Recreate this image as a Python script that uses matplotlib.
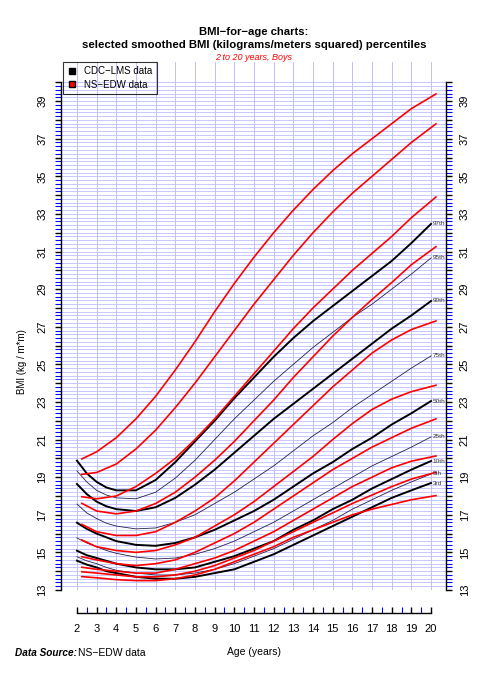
import numpy as np
import matplotlib
matplotlib.use("Agg")
import matplotlib.pyplot as plt
from matplotlib.lines import Line2D
from matplotlib.ticker import FixedLocator, FixedFormatter

plt.rcParams['font.family'] = ['Liberation Sans', 'DejaVu Sans']

# CDC-LMS percentiles (black)
cdc_age = [2, 2.5, 3, 3.5, 4, 5, 6, 7, 8, 9, 10, 11, 12, 13, 14, 15, 16, 17, 18, 19, 20]
cdc_labels = ['3rd', '5th', '10th', '25th', '50th', '75th', '90th', '95th', '97th']
cdc_p3 = [14.56, 14.35, 14.2, 14.0, 13.9, 13.7, 13.6, 13.6, 13.7, 13.9, 14.1, 14.5, 14.9, 15.4, 15.9, 16.4, 16.9, 17.4, 17.9, 18.3, 18.69]
cdc_p5 = [14.77, 14.55, 14.4, 14.2, 14.05, 13.9, 13.8, 13.8, 13.9, 14.1, 14.4, 14.8, 15.2, 15.7, 16.2, 16.7, 17.3, 17.8, 18.3, 18.75, 19.17]
cdc_p10 = [15.09, 14.85, 14.7, 14.55, 14.4, 14.2, 14.1, 14.1, 14.2, 14.5, 14.8, 15.2, 15.6, 16.2, 16.7, 17.3, 17.8, 18.4, 18.9, 19.4, 19.86]
cdc_p25 = [15.77, 15.5, 15.3, 15.1, 14.95, 14.75, 14.65, 14.7, 14.9, 15.2, 15.6, 16.1, 16.6, 17.2, 17.8, 18.4, 19.0, 19.6, 20.1, 20.6, 21.14]
cdc_p50 = [16.58, 16.25, 16.0, 15.8, 15.6, 15.4, 15.35, 15.5, 15.8, 16.2, 16.7, 17.2, 17.8, 18.5, 19.2, 19.8, 20.5, 21.1, 21.8, 22.4, 23.05]
cdc_p75 = [17.57, 17.1, 16.8, 16.55, 16.4, 16.25, 16.3, 16.6, 17.0, 17.6, 18.2, 18.9, 19.6, 20.4, 21.2, 21.9, 22.7, 23.4, 24.1, 24.8, 25.45]
cdc_p90 = [18.64, 18.1, 17.7, 17.45, 17.3, 17.2, 17.4, 17.9, 18.6, 19.4, 20.3, 21.2, 22.1, 22.9, 23.7, 24.5, 25.3, 26.1, 26.9, 27.6, 28.37]
cdc_p95 = [19.33, 18.75, 18.3, 18.05, 17.9, 17.85, 18.2, 18.95, 19.9, 21.0, 22.1, 23.1, 24.1, 25.0, 25.9, 26.7, 27.5, 28.2, 29.0, 29.8, 30.66]
cdc_p97 = [19.88, 19.2, 18.75, 18.45, 18.3, 18.3, 18.85, 19.8, 20.9, 22.0, 23.2, 24.3, 25.4, 26.4, 27.3, 28.1, 28.9, 29.7, 30.5, 31.45, 32.47]

# NS-EDW percentiles (red), listed from bottom to top
edw_age = [2.25, 3, 4, 5, 6, 7, 8, 9, 10, 11, 12, 13, 14, 15, 16, 17, 18, 19, 20.25]
edw_r10 = [13.71, 13.65, 13.55, 13.5, 13.5, 13.6, 13.8, 14.1, 14.5, 14.9, 15.3, 15.8, 16.2, 16.6, 17.0, 17.3, 17.55, 17.8, 18.02]
edw_r9 = [13.97, 13.9, 13.8, 13.7, 13.7, 13.8, 14.0, 14.3, 14.7, 15.1, 15.6, 16.1, 16.6, 17.1, 17.6, 18.05, 18.5, 18.9, 19.26]
edw_r8 = [14.21, 14.1, 14.0, 13.9, 13.9, 14.1, 14.4, 14.7, 15.1, 15.6, 16.1, 16.7, 17.3, 17.9, 18.5, 19.0, 19.5, 19.85, 20.13]
edw_r7 = [14.77, 14.6, 14.4, 14.3, 14.4, 14.6, 15.0, 15.5, 16.0, 16.6, 17.3, 18.0, 18.7, 19.4, 20.0, 20.6, 21.1, 21.6, 22.1]
edw_r6 = [15.66, 15.3, 15.1, 15.0, 15.1, 15.4, 15.8, 16.4, 17.0, 17.7, 18.5, 19.3, 20.1, 21.0, 21.85, 22.6, 23.15, 23.55, 23.89]
edw_r5 = [16.49, 16.1, 15.9, 15.9, 16.1, 16.6, 17.2, 17.9, 18.8, 19.8, 20.8, 21.8, 22.8, 23.8, 24.7, 25.6, 26.3, 26.85, 27.31]
edw_r4 = [17.61, 17.2, 17.05, 17.2, 17.6, 18.2, 19.0, 19.9, 20.9, 22.0, 23.1, 24.3, 25.4, 26.5, 27.5, 28.45, 29.35, 30.3, 31.26]
edw_r3 = [17.96, 17.85, 18.0, 18.5, 19.2, 20.0, 21.0, 22.1, 23.3, 24.5, 25.7, 26.9, 28.0, 29.0, 30.0, 30.9, 31.8, 32.8, 33.9]
edw_r2 = [19.15, 19.25, 19.7, 20.5, 21.5, 22.7, 24.0, 25.4, 26.8, 28.2, 29.5, 30.8, 32.0, 33.1, 34.1, 35.0, 35.9, 36.8, 37.79]
edw_r1 = [19.97, 20.35, 21.1, 22.1, 23.3, 24.7, 26.2, 27.8, 29.3, 30.7, 32.0, 33.2, 34.3, 35.3, 36.2, 37.0, 37.8, 38.6, 39.38]

W, H = 485, 685
fig = plt.figure(figsize=(W / 100, H / 100), dpi=100)
ax = fig.add_axes([61 / W, 95 / H, 385 / W, 528 / H])
ax.set_xlim(1.19, 20.76)
ax.set_ylim(13, 41.08)

# grid
for v in np.arange(13, 40.01, 0.2):
    ax.axhline(v, color='#c8c8ff', lw=0.7, zorder=0)
for a in range(2, 21):
    ax.axvline(a, color='#c0c0ff', lw=0.7, zorder=0)

# red curves
for ys in [edw_r1, edw_r2, edw_r3, edw_r4, edw_r5, edw_r6, edw_r7, edw_r8, edw_r9, edw_r10]:
    ax.plot(edw_age, ys, color='red', lw=1.2, zorder=3)

# black curves, thick and thin alternate
cdc = [cdc_p3, cdc_p5, cdc_p10, cdc_p25, cdc_p50, cdc_p75, cdc_p90, cdc_p95, cdc_p97]
for i, ys in enumerate(cdc):
    thick = i % 2 == 0
    ax.plot(cdc_age, ys, color='black' if thick else '#202050',
            lw=1.4 if thick else 0.6, zorder=2)
    ax.text(20.08, ys[-1], cdc_labels[i], fontsize=4.6, color='#333333',
            ha='left', va='center', zorder=4)

# axes
ax.spines['top'].set_visible(False)
ax.spines['left'].set_bounds(13, 40)
ax.spines['right'].set_bounds(13, 40)
ax.spines['bottom'].set_position(('outward', 16.5))
ax.spines['bottom'].set_bounds(2, 20)
for s in ['left', 'right', 'bottom']:
    ax.spines[s].set_linewidth(1.0)

yt = list(range(13, 41))
ax.yaxis.set_major_locator(FixedLocator(yt))
ax.yaxis.set_major_formatter(FixedFormatter([str(v) if v % 2 == 1 else '' for v in yt]))
ax.yaxis.set_minor_locator(FixedLocator(np.arange(13, 40.01, 0.2)))
ax.tick_params(axis='y', which='major', direction='out', length=4, width=1.0,
               color='black', left=True, right=True, labelleft=True, labelright=True,
               labelsize=8, pad=6)
ax.tick_params(axis='y', which='minor', direction='out', length=4, width=0.8,
               color='blue', left=True, right=True)
for lab in ax.get_yticklabels():
    lab.set_rotation(90)
    lab.set_va('center')

xt = list(range(2, 21))
ax.xaxis.set_major_locator(FixedLocator(xt))
ax.xaxis.set_major_formatter(FixedFormatter([str(v) for v in xt]))
ax.xaxis.set_minor_locator(FixedLocator(np.arange(2.5, 20, 1)))
ax.tick_params(axis='x', which='major', direction='in', length=4.5, width=1.0,
               color='black', labelsize=8, pad=8)
ax.tick_params(axis='x', which='minor', direction='in', length=4.5, width=0.8,
               color='blue')

# legend
handles = [Line2D([], [], marker='s', ls='none', color='black', markersize=4.5),
           Line2D([], [], marker='s', ls='none', markerfacecolor='red',
                  markeredgecolor='black', markersize=4.5)]
leg = ax.legend(handles, ['CDC\u2212LMS data', 'NS\u2212EDW data'], loc='upper left',
                bbox_to_anchor=(63 / W, 1 - 62 / H), bbox_transform=fig.transFigure,
                borderaxespad=0, fancybox=False, edgecolor='black', fontsize=7,
                handlelength=1.0, borderpad=0.45, labelspacing=0.35, handletextpad=0.7)
leg.get_frame().set_facecolor('none')
leg.get_frame().set_linewidth(0.8)

# titles and labels
fig.text(254 / W, 1 - 32 / H, 'BMI\u2212for\u2212age charts:', ha='center', va='center',
         fontsize=8.1, fontweight='bold')
fig.text(254 / W, 1 - 45 / H, 'selected smoothed BMI (kilograms/meters squared) percentiles',
         ha='center', va='center', fontsize=8.2, fontweight='bold')
fig.text(254 / W, 1 - 57 / H, '2 to 20 years, Boys', ha='center', va='center',
         fontsize=6.5, style='italic', color='red')
fig.text(254 / W, 1 - 652 / H, 'Age (years)', ha='center', va='center', fontsize=7.5)
fig.text(22 / W, 1 - 362 / H, 'BMI (kg / m*m)', ha='center', va='center', fontsize=7,
         rotation=90)
fig.text(15 / W, 1 - 653 / H, 'Data Source:', ha='left', va='center', fontsize=7.2,
         fontweight='bold', style='italic')
fig.text(78 / W, 1 - 653 / H, 'NS\u2212EDW data', ha='left', va='center', fontsize=7.5)

fig.savefig('out.png', dpi=100)
